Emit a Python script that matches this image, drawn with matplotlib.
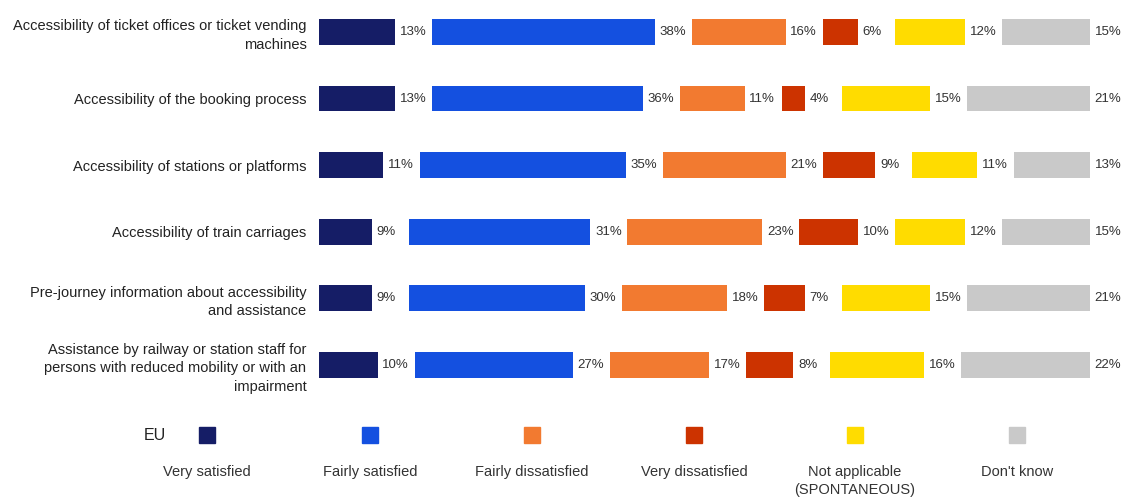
import numpy as np
import matplotlib.pyplot as plt
from matplotlib.patches import Rectangle

plt.rcParams['font.family'] = ['Liberation Sans Narrow', 'Liberation Sans', 'DejaVu Sans']

items = [
    "Accessibility of ticket offices or ticket vending\nmachines",
    "Accessibility of the booking process",
    "Accessibility of stations or platforms",
    "Accessibility of train carriages",
    "Pre-journey information about accessibility\nand assistance",
    "Assistance by railway or station staff for\npersons with reduced mobility or with an\nimpairment",
]
answers = ["Very satisfied", "Fairly satisfied", "Fairly dissatisfied",
           "Very dissatisfied", "Not applicable\n(SPONTANEOUS)", "Don't know"]

very_satisfied = [13, 13, 11, 9, 9, 10]
fairly_satisfied = [38, 36, 35, 31, 30, 27]
fairly_dissatisfied = [16, 11, 21, 23, 18, 17]
very_dissatisfied = [6, 4, 9, 10, 7, 8]
not_applicable = [12, 15, 11, 12, 15, 16]
dont_know = [15, 21, 13, 15, 21, 22]

colors = ['#151d66', '#1450e0', '#f27a30', '#cc3300', '#ffdc00', '#c9c9c9']

series = [very_satisfied, fairly_satisfied, fairly_dissatisfied,
          very_dissatisfied, not_applicable, dont_know]
values = np.array(series).T  # rows x answers

gap = 6.3  # room left after each segment for its label

fig = plt.figure(figsize=(11.21, 4.98), dpi=100)
ax = fig.add_axes([319 / 1121, 1 - 398 / 498, (1090 - 319) / 1121, 398 / 498])

y = np.arange(len(items))
for r in range(len(items)):
    left = 0
    for k in range(len(series)):
        v = values[r, k]
        ax.barh(y[r], v, left=left, height=0.39, color=colors[k])
        ax.text(left + v + 0.8, y[r], f"{v}%", va='center', ha='left',
                fontsize=9.5, color='#333333', clip_on=False)
        left += v + gap

ax.set_xlim(0, 100 + 5 * gap)
ax.set_ylim(5.5, -0.48)
ax.set_yticks(y)
ax.set_yticklabels(items, fontsize=10.5, color='#222222', ha='right',
                   linespacing=1.4)
ax.tick_params(axis='y', length=0, pad=9)
ax.set_xticks([])
for s in ax.spines.values():
    s.set_visible(False)

# legend row
fig.text(155 / 1121, 1 - 435 / 498, "EU", ha='center', va='center',
         fontsize=11.5, color='#222222')
legend_x = [207, 370, 532, 694, 855, 1017]
for k, lx in enumerate(legend_x):
    fig.patches.append(Rectangle(((lx - 8) / 1121, 1 - 443 / 498), 16 / 1121, 16 / 498,
                                 transform=fig.transFigure, color=colors[k]))
    fig.text(lx / 1121, 1 - 465 / 498, answers[k], ha='center', va='top',
             fontsize=10.5, color='#333333', linespacing=1.35)

fig.savefig('out.png', dpi=100)
